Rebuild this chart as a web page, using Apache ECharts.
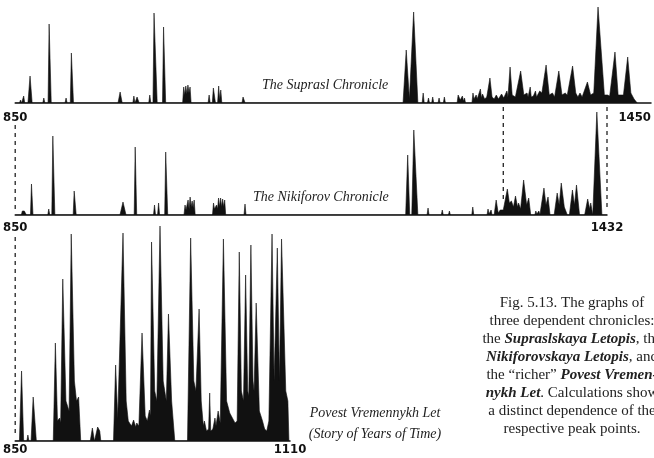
<!DOCTYPE html>
<html>
<head>
<meta charset="utf-8">
<script src="https://cdn.jsdelivr.net/npm/echarts@6/dist/echarts.min.js"></script>
<style>
  html, body { margin: 0; padding: 0; background: #fff; }
  #main { width: 654px; height: 458px; }
</style>
</head>
<body>
<div id="main"></div>
<script>
// year ranges of the three chronicles
var ranges = [[850, 1450], [850, 1432], [850, 1110]];

// The Suprasl Chronicle: [year, frequency]
var suprasl = [
  [850,0],[854,0],[855,3],[856,0],[857,0],[858,7],[859,0],
  [862,0],[864,27],[866,0],[876,0],[877,5],[878,0],[881,0],[882,79],[884,0],
  [897,0],[898,5],[899,0],[902,0],[903,50],[905,0],
  [947,0],[949,11],[951,0],[961,0],[962,7],[963,0],[964,0],[965,6],[967,0],
  [976,0],[977,8],[978,0],[980,0],[981,90],[984,0],[989,0],[990,76],[992,0],
  [1008,0],[1009,16],[1010,8],[1011,17],[1012,9],[1013,18],[1014,10],[1015,16],[1016,0],
  [1032,0],[1033,8],[1034,0],[1036,0],[1037,15],[1039,0],[1041,0],[1042,17],[1043,3],[1044,13],[1045,0],
  [1064,0],[1065,6],[1067,0],
  [1216,0],[1219,53],[1222,4],[1226,91],[1230,0],
  [1234,0],[1235,10],[1236,0],[1239,0],[1240,5],[1241,0],[1243,0],[1244,6],[1245,0],
  [1249,0],[1250,5],[1251,0],[1254,0],[1255,6],[1256,0],
  [1267,0],[1268,8],[1270,3],[1272,7],[1273,2],[1274,5],[1275,0],
  [1281,0],[1282,10],[1283,4],[1285,8],[1286,4],[1289,14],[1290,5],[1291,9],[1293,4],[1295,6],
  [1298,25],[1300,6],[1302,4],[1304,8],[1306,4],[1309,9],[1311,5],[1314,12],[1315,6],
  [1317,36],[1319,8],[1320,10],[1322,6],[1327,32],[1330,8],[1331,6],[1333,10],[1334,6],
  [1336,16],[1337,6],[1339,7],[1341,12],[1342,6],[1345,12],[1347,10],[1351,38],[1354,8],
  [1357,10],[1359,6],[1363,32],[1366,8],[1369,10],[1371,8],[1376,37],[1379,10],[1381,6],
  [1383,10],[1385,6],[1390,21],[1393,8],[1396,10],[1400,96],[1406,8],[1409,8],[1411,7],
  [1416,51],[1419,8],[1422,8],[1424,8],[1428,46],[1431,10],[1434,4],[1437,0]
];

// The Nikiforov Chronicle
var nikiforov = [
  [850,0],[856,0],[857,4],[858,2],[859,4],[860,3],[861,0],
  [865,0],[866,31],[867.5,0],[882,0],[883,6],[884,0],[886,0],[887,79],[889,0],
  [907,0],[908,24],[910,0],[953,0],[956,13],[959,0],[967,0],[968,68],[969.5,0],
  [986,0],[987,10],[988,0],[990,0],[991,12],[992,0],[997,0],[998,63],[1000,0],
  [1016,0],[1017,10],[1018,5],[1020,15],[1021,6],[1022,18],[1023,8],[1024,14],[1025,7],[1026,15],[1027,0],
  [1044,0],[1045,12],[1046,6],[1048,10],[1049,6],[1050,17],[1051,8],[1052,17],[1053,8],[1054,16],[1055,8],[1056,15],[1057,0],
  [1075,0],[1076,11],[1077,0],
  [1234,0],[1236,60],[1238,0],[1240,0],[1242,85],[1246,0],
  [1255,0],[1256,7],[1257,0],[1269,0],[1270,5],[1271,0],[1276,0],[1277,4],[1278,0],
  [1299,0],[1300,8],[1301,0],[1314,0],[1315,6],[1316,1],[1318,5],[1319,0],
  [1321,0],[1323,15],[1325,2],[1327,5],[1328,3],[1330,5],[1334,26],[1336,12],[1338,14],
  [1340,8],[1342,19],[1344,8],[1345,12],[1347,6],[1350,35],[1353,10],[1355,17],[1357,0],
  [1361,0],[1362,4],[1363,1],[1365,4],[1366,0],
  [1367,0],[1370,27],[1372,10],[1374,18],[1376,0],
  [1380,0],[1383,22],[1385,10],[1387,32],[1390,8],[1391,10],[1393,0],
  [1395,0],[1398,25],[1400,10],[1402,30],[1405,0],
  [1410,0],[1413,16],[1415,6],[1416,12],[1418,0],[1419,0],[1422,103],[1427,0],[1432,0]
];

// Povest Vremennykh Let
var povest = [
  [850,0],[854,0],[856,70],[858,0],[861,0],[862,6],[863,0],[865,0],[867,44],[870,0],
  [886,0],[888,98],[890,20],[892,23],[893,18],[894,20],[895,162],[898,40],[901,30],
  [903,207],[906,60],[908,40],[910,44],[912,0],
  [921,0],[923,13],[925,0],[926,0],[928,14],[930,10],[931,0],
  [943,0],[945,76],[947,22],[948,20],[952,208],[955,40],[957,20],[960,15],[962,21],
  [964,14],[965,18],[967,15],[970,108],[973,25],[975,20],[977,31],[978,25],[979,199],
  [982,50],[984,40],[987,215],[990,60],[993,40],[995,127],[998,40],[1001,0],
  [1013,0],[1016,203],[1019,60],[1021,50],[1024,132],[1026,40],[1028,15],[1029,20],
  [1031,10],[1033,12],[1034,48],[1035,10],[1037,12],[1039,23],[1040,15],[1042,30],
  [1044,18],[1047,202],[1050,40],[1053,28],[1056,22],[1058,18],[1060,20],[1062,189],
  [1064,50],[1066,40],[1068,166],[1070,50],[1071,45],[1073,196],[1075,60],[1076,50],
  [1078,138],[1081,30],[1084,20],[1086,12],[1088,10],[1090,20],[1093,207],[1095,60],
  [1098,193],[1100,60],[1102,202],[1106,50],[1108,40],[1109,0]
];

var names = ['The Suprasl Chronicle', 'The Nikiforov Chronicle',
             'Povest Vremennykh Let\n(Story of Years of Time)'];

var caption = [
  'Fig. 5.13. The graphs of',
  'three dependent chronicles:',
  'the {b|Supraslskaya Letopis}, the',
  '{b|Nikiforovskaya Letopis}, and',
  'the \u201Cricher\u201D {b|Povest Vremen-}',
  '{b|nykh Let}. Calculations show',
  'a distinct dependence of the',
  'respective peak points.'
];

// dashed links between graphs: year, from grid, to grid
var links = [[850, 0, 1], [850, 1, 2], [1330, 0, 1], [1432, 0, 1]];

var grids = [
  { left: 13, top: 3, width: 639, height: 100 },
  { left: 13, top: 110, width: 594, height: 105 },
  { left: 15, top: 221, width: 275, height: 220 }
];
var yMax = [100, 105, 220];
var labelMargin = [8, 6, 2];
var serif = '"Liberation Serif", "DejaVu Serif", serif';

var dom = document.getElementById('main');
var myChart = echarts.init(dom);

var xAxes = [], yAxes = [], series = [];
var datas = [suprasl, nikiforov, povest];
for (var i = 0; i < 3; i++) {
  xAxes.push({
    type: 'value', gridIndex: i, min: ranges[i][0], max: ranges[i][1],
    axisLine: { lineStyle: { color: '#111', width: 1.5 } },
    axisTick: { show: false },
    splitLine: { show: false },
    axisLabel: {
      customValues: ranges[i],
      margin: labelMargin[i],
      alignMaxLabel: i === 0 ? 'right' : 'center',
      formatter: function (v) { return String(v); },
      fontFamily: '"DejaVu Sans Condensed", "DejaVu Sans", sans-serif',
      fontWeight: 'bold', fontSize: 13, color: '#111'
    }
  });
  yAxes.push({ type: 'value', gridIndex: i, min: 0, max: yMax[i], show: false });
  series.push({
    type: 'line', xAxisIndex: i, yAxisIndex: i, data: datas[i],
    symbol: 'none', silent: true,
    lineStyle: { color: '#111', width: 0.6 },
    areaStyle: { color: '#111', opacity: 1 }
  });
}

option = {
  backgroundColor: '#fff',
  animation: false,
  grid: grids,
  xAxis: xAxes,
  yAxis: yAxes,
  series: series
};
myChart.setOption(option);

var textStyle = { fontFamily: serif, fontStyle: 'italic', fontSize: 14, fill: '#222' };
var graphics = [
  { type: 'text', left: 262, top: 78, style: Object.assign({ text: names[0] }, textStyle) },
  { type: 'text', left: 253, top: 190, style: Object.assign({ text: names[1] }, textStyle) },
  { type: 'text', x: 375, y: 403, style: Object.assign({ text: names[2], textAlign: 'center', lineHeight: 21 }, textStyle) },
  { type: 'text', x: 572, y: 294, style: {
      text: caption.join('\n'), textAlign: 'center', textVerticalAlign: 'top',
      fontFamily: serif, fontSize: 15, lineHeight: 18, fill: '#222',
      rich: { b: { fontFamily: serif, fontSize: 15, lineHeight: 18, fontStyle: 'italic', fontWeight: 'bold', fill: '#222' } }
  } }
];

links.forEach(function (l) {
  var a = myChart.convertToPixel({ gridIndex: l[1] }, [l[0], 0]);
  var b = myChart.convertToPixel({ gridIndex: l[2] }, [l[0], 0]);
  var ax = myChart.convertToPixel({ gridIndex: 1 }, [l[0], 0])[0];
  var y1 = a[1] + (l[0] === 850 ? 22 : 4);
  var y2 = b[1] - (l[0] === 1330 ? 12 : 4);
  graphics.push({
    type: 'line', silent: true,
    shape: { x1: ax, y1: y1, x2: l[2] === 2 ? b[0] : ax, y2: y2 },
    style: { stroke: '#222', lineWidth: 1.3, lineDash: [4, 4] }
  });
});

myChart.setOption({ graphic: graphics });
</script>
</body>
</html>
